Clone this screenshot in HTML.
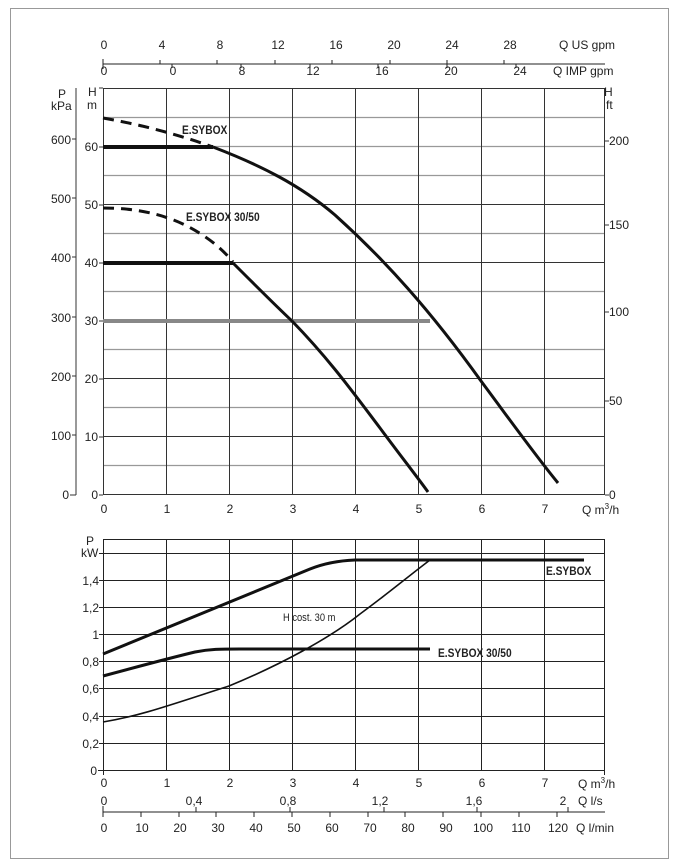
<!DOCTYPE html>
<html><head><meta charset="utf-8"><style>
html,body{margin:0;padding:0;background:#fff}
svg{display:block;font-family:"Liberation Sans",sans-serif}
.b{font-weight:bold;font-size:12px}
</style></head><body>
<svg width="678" height="867" viewBox="0 0 678 867" xmlns="http://www.w3.org/2000/svg">
<rect x="10.5" y="8.5" width="658" height="850" fill="none" stroke="#999" stroke-width="1"/>
<g font-size="12" fill="#222">
<line x1="103" y1="64" x2="605" y2="64" stroke="#222"/>
<g stroke="#222">
<line x1="103" y1="59" x2="103" y2="69"/><line x1="160" y1="60" x2="160" y2="64"/><line x1="217" y1="60" x2="217" y2="64"/><line x1="275" y1="60" x2="275" y2="64"/><line x1="332" y1="60" x2="332" y2="64"/><line x1="390" y1="60" x2="390" y2="64"/><line x1="447" y1="60" x2="447" y2="64"/><line x1="504" y1="60" x2="504" y2="64"/>
<line x1="172" y1="64" x2="172" y2="68"/><line x1="241" y1="64" x2="241" y2="68"/><line x1="310" y1="64" x2="310" y2="68"/><line x1="378" y1="64" x2="378" y2="68"/><line x1="447" y1="64" x2="447" y2="68"/><line x1="516" y1="64" x2="516" y2="68"/>
</g>
<g text-anchor="middle">
<text x="104" y="49">0</text><text x="162" y="49">4</text><text x="220" y="49">8</text><text x="278" y="49">12</text><text x="336" y="49">16</text><text x="394" y="49">20</text><text x="452" y="49">24</text><text x="510" y="49">28</text>
<text x="104" y="75">0</text><text x="173" y="75">0</text><text x="242" y="75">8</text><text x="313" y="75">12</text><text x="382" y="75">16</text><text x="451" y="75">20</text><text x="520" y="75">24</text>
</g>
<text x="559" y="49">Q US gpm</text><text x="553" y="75">Q IMP gpm</text>

<g stroke="#999" stroke-width="1.2">
<line x1="103" y1="117.5" x2="605" y2="117.5"/><line x1="103" y1="146.5" x2="605" y2="146.5"/><line x1="103" y1="175.5" x2="605" y2="175.5"/><line x1="103" y1="233.5" x2="605" y2="233.5"/><line x1="103" y1="291.5" x2="605" y2="291.5"/><line x1="103" y1="349.5" x2="605" y2="349.5"/><line x1="103" y1="407.5" x2="605" y2="407.5"/><line x1="103" y1="465.5" x2="605" y2="465.5"/>
</g>
<g stroke="#333" stroke-width="1">
<line x1="103" y1="88.5" x2="605" y2="88.5"/><line x1="103" y1="204.5" x2="605" y2="204.5"/><line x1="103" y1="262.5" x2="605" y2="262.5"/><line x1="103" y1="378.5" x2="605" y2="378.5"/><line x1="103" y1="436.5" x2="605" y2="436.5"/><line x1="103" y1="494.5" x2="605" y2="494.5"/>
<line x1="103.5" y1="88" x2="103.5" y2="495"/><line x1="166.5" y1="88" x2="166.5" y2="495"/><line x1="229.5" y1="88" x2="229.5" y2="495"/><line x1="292.5" y1="88" x2="292.5" y2="495"/><line x1="355.5" y1="88" x2="355.5" y2="495"/><line x1="418.5" y1="88" x2="418.5" y2="495"/><line x1="481.5" y1="88" x2="481.5" y2="495"/><line x1="544.5" y1="88" x2="544.5" y2="495"/><line x1="604.5" y1="88" x2="604.5" y2="495"/>
<line x1="76" y1="88" x2="76" y2="495"/><line x1="70" y1="495" x2="76" y2="495"/>
<line x1="72" y1="139" x2="76" y2="139"/><line x1="72" y1="198" x2="76" y2="198"/><line x1="72" y1="257" x2="76" y2="257"/><line x1="72" y1="317" x2="76" y2="317"/><line x1="72" y1="376" x2="76" y2="376"/><line x1="72" y1="435" x2="76" y2="435"/>
<line x1="99" y1="147" x2="103" y2="147"/><line x1="99" y1="205" x2="103" y2="205"/><line x1="99" y1="263" x2="103" y2="263"/><line x1="99" y1="321" x2="103" y2="321"/><line x1="99" y1="379" x2="103" y2="379"/><line x1="99" y1="437" x2="103" y2="437"/><line x1="99" y1="495" x2="103" y2="495"/><line x1="99" y1="88" x2="103" y2="88"/>
<line x1="605" y1="141" x2="609" y2="141"/><line x1="605" y1="225" x2="609" y2="225"/><line x1="605" y1="312" x2="609" y2="312"/><line x1="605" y1="401" x2="609" y2="401"/><line x1="605" y1="495" x2="609" y2="495"/>
</g>
<text x="58" y="98">P</text><text x="51" y="110">kPa</text><text x="88" y="96">H</text><text x="87" y="109">m</text>
<text x="604" y="96">H</text><text x="606" y="109">ft</text>
<g text-anchor="end">
<text x="71" y="144">600</text><text x="71" y="203">500</text><text x="71" y="262">400</text><text x="71" y="322">300</text><text x="71" y="381">200</text><text x="71" y="440">100</text><text x="69" y="499">0</text>
<text x="98" y="151">60</text><text x="98" y="209">50</text><text x="98" y="267">40</text><text x="98" y="325">30</text><text x="98" y="383">20</text><text x="98" y="441">10</text><text x="98" y="499">0</text>
</g>
<text x="609" y="145">200</text><text x="609" y="229">150</text><text x="609" y="316">100</text><text x="609" y="405">50</text><text x="609" y="499">0</text>
<g text-anchor="middle">
<text x="104" y="513">0</text><text x="167" y="513">1</text><text x="230" y="513">2</text><text x="293" y="513">3</text><text x="356" y="513">4</text><text x="419" y="513">5</text><text x="482" y="513">6</text><text x="545" y="513">7</text>
</g>
<text x="582" y="514">Q m<tspan font-size="8" dy="-5">3</tspan><tspan dy="5">/h</tspan></text>

<line x1="103" y1="321" x2="430" y2="321" stroke="#888" stroke-width="4"/>
<path d="M103,147 L213,147" stroke="#111" stroke-width="4" fill="none"/>
<path d="M103,118 Q160,128 213,147" stroke="#111" stroke-width="3" fill="none" stroke-dasharray="11,7"/>
<path d="M213,147 C260,165 300,185 335,215 C385,260 430,310 481,381 C510,420 535,455 558,483" stroke="#111" stroke-width="3" fill="none"/>
<path d="M103,263 L233,263" stroke="#111" stroke-width="4" fill="none"/>
<path d="M103,208 Q150,208 185,225 Q215,240 233,262" stroke="#111" stroke-width="3" fill="none" stroke-dasharray="11,7"/>
<path d="M233,263 C255,285 275,305 292,321 C330,360 355,395 380,428 C400,455 418,478 428,492" stroke="#111" stroke-width="3" fill="none"/>
<text class="b" transform="translate(182 134) scale(0.85 1)">E.SYBOX</text>
<text class="b" transform="translate(186 221) scale(0.85 1)">E.SYBOX 30/50</text>

<g stroke="#222" stroke-width="1">
<line x1="103" y1="539.5" x2="605" y2="539.5"/><line x1="103" y1="553.5" x2="605" y2="553.5"/><line x1="103" y1="580.5" x2="605" y2="580.5"/><line x1="103" y1="607.5" x2="605" y2="607.5"/><line x1="103" y1="634.5" x2="605" y2="634.5"/><line x1="103" y1="661.5" x2="605" y2="661.5"/><line x1="103" y1="688.5" x2="605" y2="688.5"/><line x1="103" y1="716.5" x2="605" y2="716.5"/><line x1="103" y1="743.5" x2="605" y2="743.5"/><line x1="98" y1="770.5" x2="605" y2="770.5"/>
<line x1="103.5" y1="539" x2="103.5" y2="775"/><line x1="166.5" y1="539" x2="166.5" y2="771"/><line x1="229.5" y1="539" x2="229.5" y2="771"/><line x1="292.5" y1="539" x2="292.5" y2="771"/><line x1="355.5" y1="539" x2="355.5" y2="771"/><line x1="418.5" y1="539" x2="418.5" y2="771"/><line x1="481.5" y1="539" x2="481.5" y2="771"/><line x1="544.5" y1="539" x2="544.5" y2="771"/><line x1="604.5" y1="539" x2="604.5" y2="775"/>
<line x1="99" y1="553.5" x2="103" y2="553.5"/><line x1="99" y1="580.5" x2="103" y2="580.5"/><line x1="99" y1="607.5" x2="103" y2="607.5"/><line x1="99" y1="634.5" x2="103" y2="634.5"/><line x1="99" y1="661.5" x2="103" y2="661.5"/><line x1="99" y1="688.5" x2="103" y2="688.5"/><line x1="99" y1="716.5" x2="103" y2="716.5"/><line x1="99" y1="743.5" x2="103" y2="743.5"/>
</g>
<text x="86" y="545">P</text><text x="81" y="557">kW</text>
<g text-anchor="end">
<text x="99" y="585">1,4</text><text x="99" y="612">1,2</text><text x="99" y="639">1</text><text x="99" y="666">0,8</text><text x="99" y="693">0,6</text><text x="99" y="721">0,4</text><text x="99" y="748">0,2</text><text x="97" y="775">0</text>
</g>
<g text-anchor="middle">
<text x="104" y="787">0</text><text x="167" y="787">1</text><text x="230" y="787">2</text><text x="293" y="787">3</text><text x="356" y="787">4</text><text x="419" y="787">5</text><text x="482" y="787">6</text><text x="545" y="787">7</text>
</g>
<text x="578" y="788">Q m<tspan font-size="8" dy="-5">3</tspan><tspan dy="5">/h</tspan></text>

<path d="M103,654 L310,569 Q330,561 355,560 L584,560" stroke="#111" stroke-width="3" fill="none"/>
<path d="M103,676 C140,666 170,658 195,652 C210,649 220,649 240,649 L430,649" stroke="#111" stroke-width="3" fill="none"/>
<path d="M103,722 C140,716 170,705 229,686 C280,665 330,638 360,614 C390,592 410,575 430,560" stroke="#111" stroke-width="1.6" fill="none"/>
<text font-size="11" transform="translate(283 621) scale(0.85 1)">H cost. 30 m</text>
<text class="b" transform="translate(546 575) scale(0.85 1)">E.SYBOX</text>
<text class="b" transform="translate(438 657) scale(0.85 1)">E.SYBOX 30/50</text>

<line x1="103" y1="812" x2="605" y2="812" stroke="#222"/>
<g stroke="#222">
<line x1="103" y1="806" x2="103" y2="817"/><line x1="196" y1="807" x2="196" y2="812"/><line x1="290" y1="807" x2="290" y2="812"/><line x1="384" y1="807" x2="384" y2="812"/><line x1="477" y1="807" x2="477" y2="812"/><line x1="568" y1="807" x2="568" y2="812"/>
<line x1="141" y1="812" x2="141" y2="817"/><line x1="179" y1="812" x2="179" y2="817"/><line x1="216" y1="812" x2="216" y2="817"/><line x1="254" y1="812" x2="254" y2="817"/><line x1="292" y1="812" x2="292" y2="817"/><line x1="330" y1="812" x2="330" y2="817"/><line x1="368" y1="812" x2="368" y2="817"/><line x1="405" y1="812" x2="405" y2="817"/><line x1="443" y1="812" x2="443" y2="817"/><line x1="481" y1="812" x2="481" y2="817"/><line x1="519" y1="812" x2="519" y2="817"/><line x1="557" y1="812" x2="557" y2="817"/>
</g>
<g text-anchor="middle">
<text x="104" y="805">0</text><text x="194" y="805">0,4</text><text x="288" y="805">0,8</text><text x="380" y="805">1,2</text><text x="474" y="805">1,6</text><text x="563" y="805">2</text>
<text x="104" y="832">0</text><text x="142" y="832">10</text><text x="180" y="832">20</text><text x="218" y="832">30</text><text x="256" y="832">40</text><text x="294" y="832">50</text><text x="332" y="832">60</text><text x="370" y="832">70</text><text x="408" y="832">80</text><text x="446" y="832">90</text><text x="483" y="832">100</text><text x="521" y="832">110</text><text x="558" y="832">120</text>
</g>
<text x="578" y="805">Q l/s</text><text x="576" y="832">Q l/min</text>
</g>
</svg>
</body></html>
